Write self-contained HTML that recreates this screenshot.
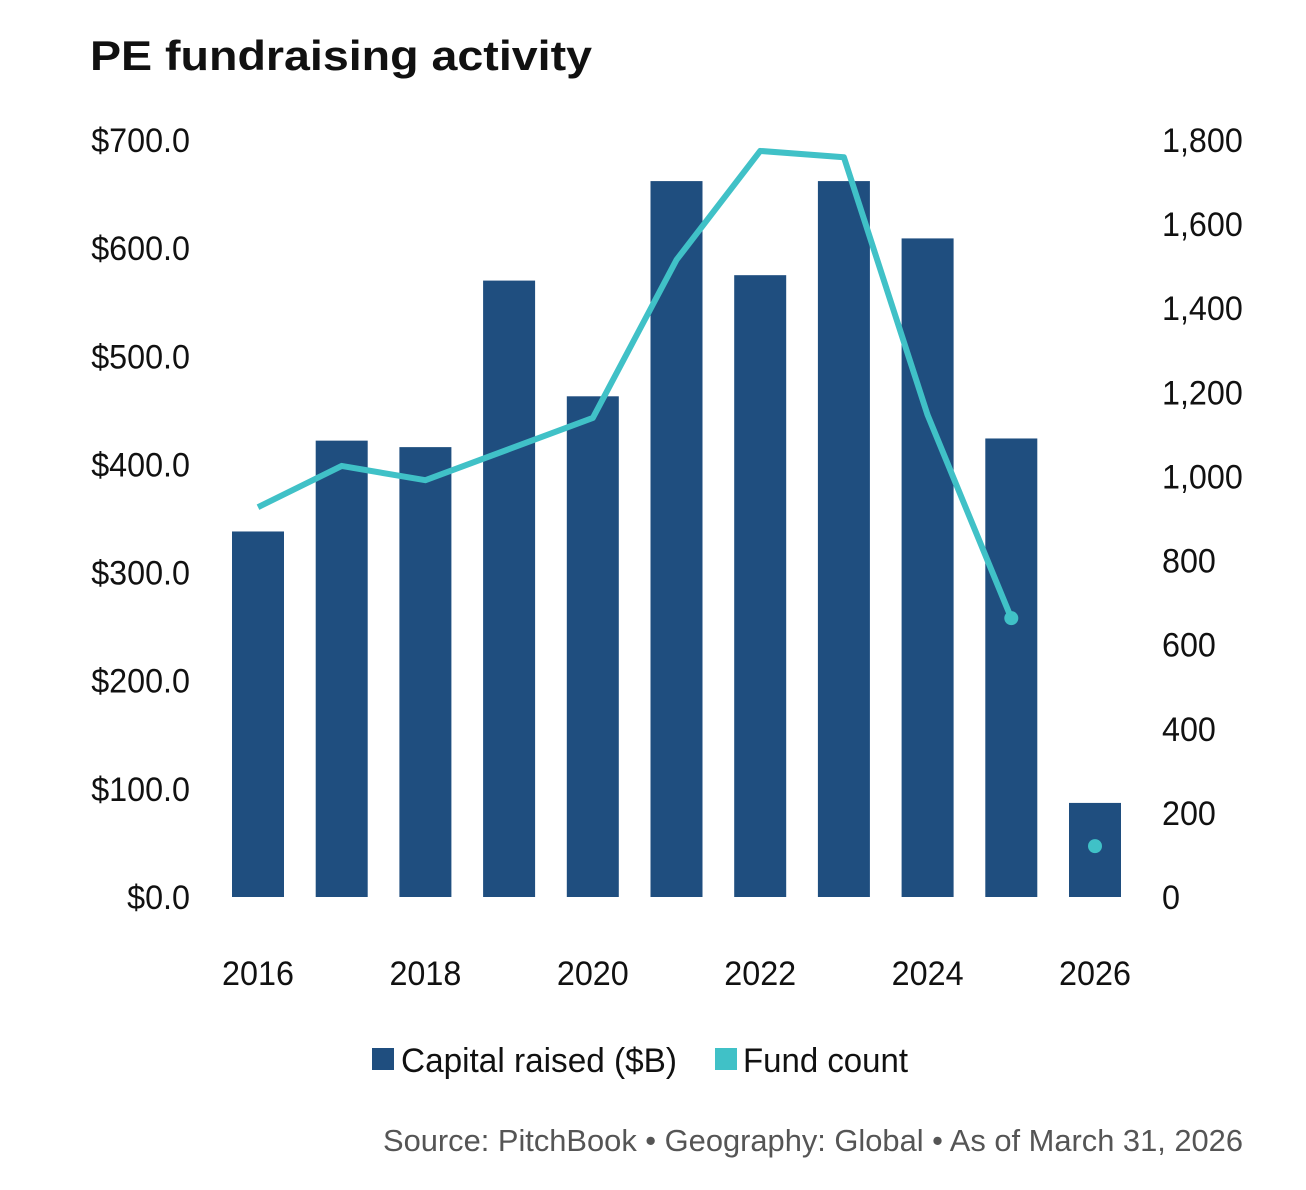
<!DOCTYPE html>
<html><head><meta charset="utf-8"><style>
html,body{margin:0;padding:0;background:#fff;}
svg{display:block;font-family:"Liberation Sans",sans-serif;}
</style></head><body>
<svg id="chart" width="1306" height="1190" viewBox="0 0 1306 1190">
<text x="90" y="70" font-size="42" font-weight="bold" fill="#111" textLength="502" lengthAdjust="spacingAndGlyphs">PE fundraising activity</text>
<g id="bars"></g>
<g id="line"></g>
<g id="yl"></g>
<g id="yr"></g>
<g id="xa"></g>
<g>
<rect x="372" y="1048" width="22" height="22" fill="#1f4e7f"/>
<text x="401" y="1072" font-size="34" fill="#111" textLength="276" lengthAdjust="spacingAndGlyphs">Capital raised ($B)</text>
<rect x="715" y="1048" width="22" height="22" fill="#40c1c7"/>
<text x="743" y="1072" font-size="34" fill="#111" textLength="165" lengthAdjust="spacingAndGlyphs">Fund count</text>
</g>
<text x="1243" y="1151" font-size="31" fill="#555" text-anchor="end" textLength="860" lengthAdjust="spacingAndGlyphs">Source: PitchBook • Geography: Global • As of March 31, 2026</text>
</svg>
<script>
const years=[2016,2017,2018,2019,2020,2021,2022,2023,2024,2025,2026];
const capital=[338,422,416,570,463,662,575,662,609,424,87];
const fundCount=[927,1025,991,1065,1139,1515,1774,1759,1146,663,121];
const leftTicks=[0,100,200,300,400,500,600,700];
const leftLabels=["$0.0","$100.0","$200.0","$300.0","$400.0","$500.0","$600.0","$700.0"];
const rightTicks=[0,200,400,600,800,1000,1200,1400,1600,1800];
const rightLabels=["0","200","400","600","800","1,000","1,200","1,400","1,600","1,800"];
const xLabels=[2016,2018,2020,2022,2024,2026];
const NS="http://www.w3.org/2000/svg";
const y0=897,yTop=140;
const yL=v=>y0-(v/700)*(y0-yTop);
const yR=v=>y0-(v/1800)*(y0-yTop);
const xS=yr=>258+(yr-2016)*83.7;
function mk(tag,attrs,parent){const e=document.createElementNS(NS,tag);for(const k in attrs)e.setAttribute(k,attrs[k]);parent.appendChild(e);return e;}
function condense(t){const w=t.getComputedTextLength();t.setAttribute('textLength',(w*0.95).toFixed(1));t.setAttribute('lengthAdjust','spacingAndGlyphs');}
const gb=document.getElementById('bars');
years.forEach((yr,i)=>{const r=mk('rect',{x:xS(yr)-26,y:yL(capital[i]),width:52,height:y0-yL(capital[i]),fill:'#1f4e7f'},gb);

});
const gl=document.getElementById('line');
const n=years.length-1;
let d='';for(let i=0;i<n;i++){d+=(i?'L':'M')+xS(years[i])+','+yR(fundCount[i]);}
const p=mk('path',{d:d,fill:'none',stroke:'#40c1c7','stroke-width':6,'stroke-linejoin':'round'},gl);


[n-1,n].forEach(i=>{const c=mk('circle',{cx:xS(years[i]),cy:yR(fundCount[i]),r:7,fill:'#40c1c7'},gl);

});
const gyl=document.getElementById('yl');
leftTicks.forEach((v,i)=>{const t=mk('text',{x:190,y:yL(v)+12,'font-size':34,'text-anchor':'end',fill:'#111'},gyl);t.textContent=leftLabels[i];condense(t);

});
const gyr=document.getElementById('yr');
rightTicks.forEach((v,i)=>{const t=mk('text',{x:1162,y:yR(v)+12,'font-size':34,fill:'#111'},gyr);t.textContent=rightLabels[i];condense(t);

});
const gx=document.getElementById('xa');
xLabels.forEach(yr=>{const t=mk('text',{x:xS(yr),y:985,'font-size':34,'text-anchor':'middle',fill:'#111'},gx);t.textContent=yr;condense(t);

});
</script>
</body></html>
